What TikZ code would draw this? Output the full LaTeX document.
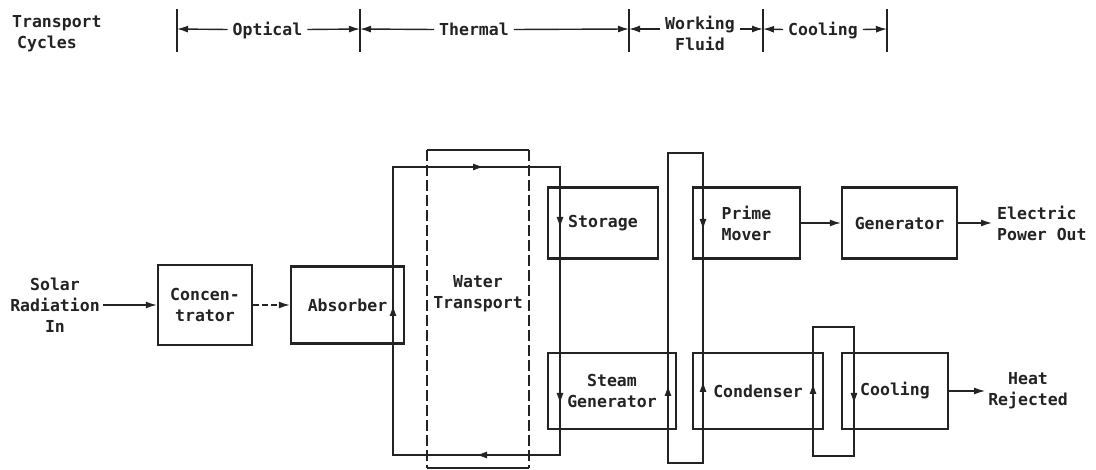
\documentclass[tikz,border=0pt]{standalone}
\usepackage{fontspec}
\setmonofont{DejaVu Sans Mono}
\usetikzlibrary{arrows.meta}
\definecolor{ink}{RGB}{35,35,35}
\begin{document}
\begin{tikzpicture}[x=1pt,y=-1pt,
  every node/.style={font=\ttfamily\bfseries\fontsize{16.5}{21}\selectfont, text=ink},
  box/.style={draw=ink, line width=2.4pt, inner sep=0pt, align=center},
  line/.style={draw=ink, line width=1.4pt},
  tip/.style={-{Latex[length=11pt,width=7pt]}},
  hdr/.style={inner xsep=5pt, inner ysep=0pt, text height=13pt, text depth=0pt},
]
\useasboundingbox (0,0) rectangle (1096,470);

% ---------------- header ----------------
\node[align=left, anchor=west, inner sep=0pt] (tc) at (12,34) {Transport\\\hspace*{5pt}Cycles};
\coordinate (t1) at (177,29);
\coordinate (t2) at (360,29);
\coordinate (t3) at (629,29);
\coordinate (t4) at (763,29);
\coordinate (t5) at (887,29);
\foreach \t in {t1,t2,t3,t4,t5}{
  \draw[line] (\t) ++(0,-20) -- ++(0,43);
}
\node[hdr] (opt) at (267.5,29.5) {Optical};
\node[hdr] (th) at (474,29.5) {Thermal};
\node[align=center, inner xsep=5pt, inner ysep=0pt] (wf) at (700,33) {Working\\Fluid};
\node[hdr] (cl) at (823,29.5) {Cooling};
\draw[line,tip] (opt.west) -- (t1);
\draw[line,tip] (opt.east) -- (t2);
\draw[line,tip] (th.west) -- (t2);
\draw[line,tip] (th.east) -- (t3);
\draw[line,tip] (wf.west |- t3) -- (t3);
\draw[line,tip] (wf.east |- t3) -- (t4);
\draw[line,tip] (cl.west) -- (t4);
\draw[line,tip] (cl.east) -- (t5);

% ---------------- loops (drawn first) ----------------
% thermal water loop
\coordinate (l1a) at (393,167);
\coordinate (l1b) at (560,455);
\draw[line] (l1a) rectangle (l1b);
% water transport frame
\coordinate (w1) at (427,150);
\coordinate (w2) at (529,468);
\draw[draw=ink, line width=2.2pt] (w1) -- (w1 -| w2);
\draw[draw=ink, line width=2pt] (w1 |- w2) -- (w2);
\draw[draw=ink, line width=1.6pt, dash pattern=on 11pt off 4pt] (w1) -- (w1 |- w2);
\draw[draw=ink, line width=1.6pt, dash pattern=on 11pt off 4pt] (w1 -| w2) -- (w2);
\node[align=center] (wt) at (478,294) {Water\\Transport};
% working fluid loop
\coordinate (l2a) at (668,153);
\coordinate (l2b) at (703,463);
\draw[line] (l2a) rectangle (l2b);
% cooling loop
\coordinate (l3a) at (813,327);
\coordinate (l3b) at (854,456);
\draw[line] (l3a) rectangle (l3b);

% flow arrows on the loops
\draw[line,tip] (466,167) -- (484,167);
\draw[line,tip] (494,455) -- (476,455);
\draw[line,tip] (393,322) -- (393,305);
\draw[line,tip] (560,211) -- (560,228);
\draw[line,tip] (560,387) -- (560,404);
\draw[line,tip] (668,402) -- (668,385);
\draw[line,tip] (703,213) -- (703,230);
\draw[line,tip] (703,398) -- (703,381);
\draw[line,tip] (813,400) -- (813,383);
\draw[line,tip] (854,387) -- (854,404);

% ---------------- boxes ----------------
\node[box, minimum width=94, minimum height=80] (conc) at (205,305) {Concen-\\trator};
\node[box, minimum width=113, minimum height=77] (abs) at (347.5,305) {Absorber};
\node[box, minimum width=110, minimum height=71] (sto) at (603,223) {Storage};
\node[box, minimum width=128, minimum height=76] (sg) at (612,391) {Steam\\Generator};
\node[box, minimum width=107, minimum height=71] (pm) at (746.5,223) {Prime\\Mover};
\node[box, minimum width=115, minimum height=71] (gen) at (899.5,223) {Generator};
\node[box, minimum width=130, minimum height=76] (cond) at (758,391) {Condenser};
\node[box, minimum width=106, minimum height=76] (cool) at (895,391) {Cooling};

% ---------------- inputs / outputs ----------------
\node[align=center] (sol) at (55,305) {Solar\\Radiation\\In};
\node[align=left, anchor=west, inner sep=0pt] (epo) at (997,223) {Electric\\Power Out};
\node[align=center, inner sep=0pt] (heat) at (1028,391) {Heat\\Rejected};

\draw[line,tip] (sol.east) -- (conc.west);
\draw[line,tip,dash pattern=on 6pt off 3pt] (conc.east) -- (abs.west);
\draw[line,tip] (pm.east) -- (gen.west);
\draw[line,tip] (gen.east) -- ([xshift=-5pt]epo.west);
\draw[line,tip] (cool.east) -- ([xshift=-3pt]heat.west |- cool.east);
\end{tikzpicture}
\end{document}
